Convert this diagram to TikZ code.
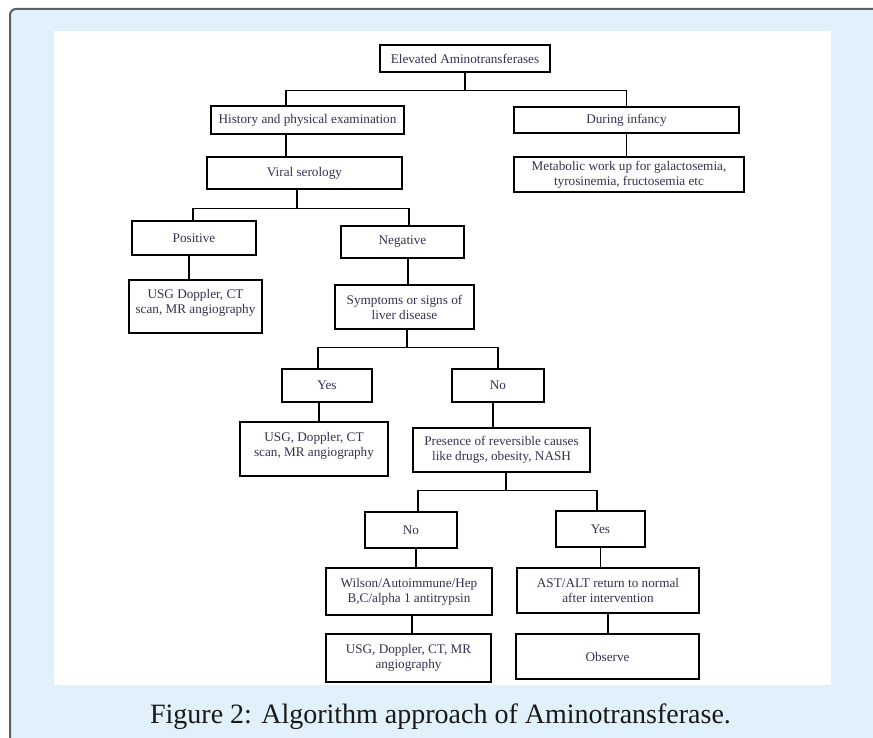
\documentclass[tikz,border=0pt]{standalone}
\usepackage{xcolor}
\usepackage{fontspec}
\setmainfont{Liberation Serif}
\usepackage{tikz}
\usetikzlibrary{positioning, calc}
\definecolor{panelblue}{RGB}{224, 241, 251}
\definecolor{framegray}{RGB}{95, 95, 95}
\definecolor{boxtext}{RGB}{52, 50, 82}
\definecolor{captiontext}{RGB}{25, 25, 25}

\tikzset{
    flowbox/.style={draw=black, line width=1.1pt, fill=white, text=boxtext, align=center,
        inner sep=2pt, font=\fontsize{13.2}{15}\selectfont},
    link/.style={draw=black, line width=1.1pt}
}

\begin{document}
\begin{tikzpicture}[x=1pt, y=-1pt]
    \useasboundingbox (0,0) rectangle (873,738);
    \clip (0,0) rectangle (873,738);
    \fill[white] (0,0) rectangle (873,738);
    \draw[framegray, line width=2pt, fill=panelblue, rounded corners=6pt] (10,9) rectangle (890,760);
    \fill[white] (54,31) rectangle (831,685);

    \node[flowbox, minimum width=170pt, minimum height=27pt] (elev) at (465,58.5) {Elevated Aminotransferases};
    \node[flowbox, minimum width=193pt, minimum height=28pt] (hist) at (307.5,120) {History and physical examination};
    \node[flowbox, minimum width=225pt, minimum height=26pt] (infancy) at (626.5,120) {During infancy};
    \node[flowbox, minimum width=195pt, minimum height=32pt] (viral) at (304.5,173) {Viral serology};
    \node[flowbox, minimum width=230pt, minimum height=35pt] (metab) at (629,174.5) {Metabolic work up for galactosemia,\\tyrosinemia, fructosemia etc};
    \node[flowbox, minimum width=124pt, minimum height=34pt] (pos) at (194,238) {Positive};
    \node[flowbox, minimum width=123pt, minimum height=32pt] (neg) at (402.5,242) {Negative};
    \node[flowbox, minimum width=133pt, minimum height=53pt] (usg1) at (195.5,306.5) {USG Doppler, CT\\scan, MR angiography\\[-5pt]};
    \node[flowbox, minimum width=139pt, minimum height=44pt] (symp) at (404.5,307) {Symptoms or signs of\\liver disease};
    \node[flowbox, minimum width=90pt, minimum height=33pt] (yes1) at (327,385.5) {Yes};
    \node[flowbox, minimum width=92pt, minimum height=33pt] (no1) at (498,385.5) {No};
    \node[flowbox, minimum width=148pt, minimum height=54pt] (usg2) at (314,449) {USG, Doppler, CT\\scan, MR angiography\\[-5pt]};
    \node[flowbox, minimum width=177pt, minimum height=44pt] (pres) at (501.5,450) {Presence of reversible causes\\like drugs, obesity, NASH};
    \node[flowbox, minimum width=92pt, minimum height=36pt] (no2) at (411,530) {No};
    \node[flowbox, minimum width=89pt, minimum height=36pt] (yes2) at (600.5,529) {Yes};
    \node[flowbox, minimum width=166pt, minimum height=47pt] (wilson) at (409,591.5) {Wilson/Autoimmune/Hep\\B,C/alpha 1 antitrypsin};
    \node[flowbox, minimum width=182pt, minimum height=45pt] (ast) at (608,590.5) {AST/ALT return to normal\\after intervention};
    \node[flowbox, minimum width=165pt, minimum height=48pt] (usg3) at (408.5,658) {USG, Doppler, CT, MR\\angiography};
    \node[flowbox, minimum width=183pt, minimum height=45pt] (obs) at (607.5,656.5) {Observe};

    \draw[link] (elev.south) -- ++(0,18) coordinate (split1);
    \draw[link] ([xshift=-21.5pt]hist.north) |- (split1) -| (infancy.north);
    \draw[link] ([xshift=-21.5pt]hist.south) -- ([xshift=-21.5pt]hist.south |- viral.north);
    \draw[link] (infancy.south) -- (infancy.south |- metab.north);

    \draw[link] ([xshift=-7.5pt]viral.south) -- ++(0,19) coordinate (split2);
    \draw[link] ([xshift=-1pt]pos.north) |- (split2) -| ([xshift=6.5pt]neg.north);
    \draw[link] ([xshift=-5pt]pos.south) -- ([xshift=-5pt]pos.south |- usg1.north);
    \draw[link] ([xshift=5.5pt]neg.south) -- ([xshift=5.5pt]neg.south |- symp.north);

    \draw[link] ([xshift=2.5pt]symp.south) -- ++(0,18) coordinate (split3);
    \draw[link] ([xshift=-9pt]yes1.north) |- (split3) -| (no1.north);
    \draw[link] ([xshift=-8pt]yes1.south) -- ([xshift=-8pt]yes1.south |- usg2.north);
    \draw[link] ([xshift=-5pt]no1.south) -- ([xshift=-5pt]no1.south |- pres.north);

    \draw[link] ([xshift=4.5pt]pres.south) -- ++(0,18) coordinate (split4);
    \draw[link] ([xshift=7pt]no2.north) |- (split4) -| ([xshift=-3.5pt]yes2.north);
    \draw[link] ([xshift=5pt]no2.south) -- ([xshift=5pt]no2.south |- wilson.north);
    \draw[link] ([xshift=3pt]wilson.south) -- ([xshift=3pt]wilson.south |- usg3.north);
    \draw[link] (yes2.south) -- (yes2.south |- ast.north);
    \draw[link] (ast.south) -- (ast.south |- obs.north);

    \node[font=\fontsize{28}{32}\selectfont, text=captiontext, anchor=base] (caption) at (440.5,723) {Figure 2: Algorithm approach of Aminotransferase.};
\end{tikzpicture}
\end{document}
